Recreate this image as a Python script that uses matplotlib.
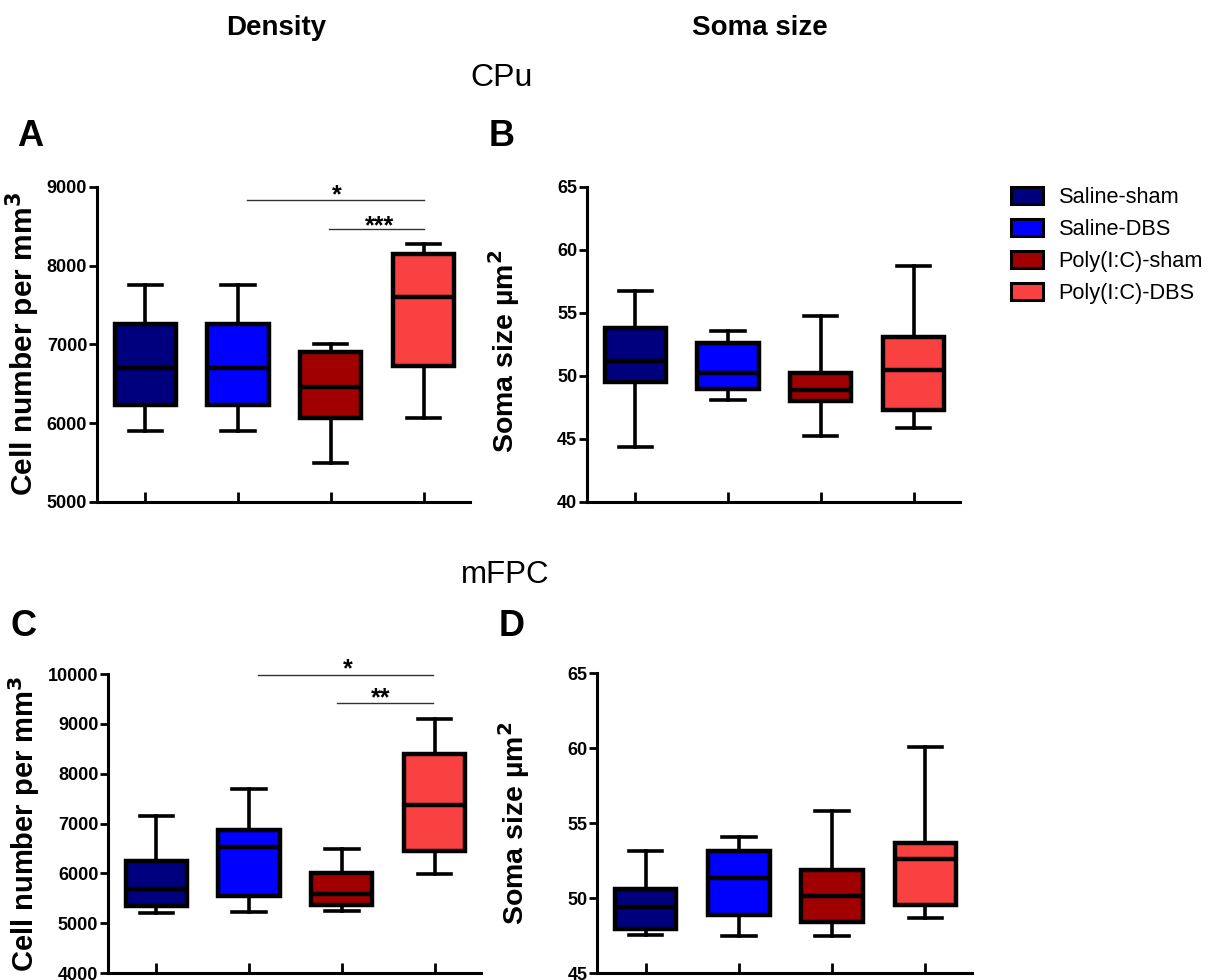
import matplotlib.pyplot as plt
from matplotlib.patches import Patch

plt.rcParams['font.family'] = ['Liberation Sans', 'DejaVu Sans']

groups = ['Saline-sham', 'Saline-DBS', 'Poly(I:C)-sham', 'Poly(I:C)-DBS']
colors = ['#00007F', '#0000FE', '#A00000', '#FA4141']

# box summaries per group: lower whisker, Q1, median, Q3, upper whisker
cpu_density = [
    [5900, 6235, 6695, 7265, 7750],
    [5900, 6235, 6700, 7265, 7750],
    [5495, 6065, 6460, 6900, 7010],
    [6065, 6725, 7605, 8150, 8280],
]
cpu_soma = [
    [44.4, 49.55, 51.2, 53.8, 56.75],
    [48.1, 49.0, 50.2, 52.65, 53.55],
    [45.2, 48.0, 48.9, 50.2, 54.75],
    [45.9, 47.3, 50.5, 53.1, 58.7],
]
mfpc_density = [
    [5205, 5355, 5690, 6250, 7160],
    [5215, 5540, 6520, 6875, 7695],
    [5255, 5370, 5585, 6005, 6495],
    [5990, 6455, 7375, 8390, 9090],
]
mfpc_soma = [
    [47.55, 47.95, 49.4, 50.6, 53.15],
    [47.45, 48.85, 51.35, 53.15, 54.1],
    [47.45, 48.4, 50.15, 51.9, 55.8],
    [48.7, 49.55, 52.6, 53.65, 60.1],
]

# significance brackets: (x start, x end, line y, stars, star x, star baseline y)
cpu_sig = [(1.1, 3.0, 8835, '*', 2.06, 8800),
           (1.98, 3.0, 8470, '***', 2.52, 8410)]
mfpc_sig = [(1.1, 2.98, 9980, '*', 2.06, 9950),
            (1.95, 2.98, 9420, '**', 2.42, 9370)]


def box_panel(ax, data, ylim, yticks, ylabel, label_size):
    stats = []
    for g, (lo, q1, med, q3, hi) in zip(groups, data):
        stats.append(dict(label=g, whislo=lo, q1=q1, med=med, q3=q3, whishi=hi, fliers=[]))
    bp = ax.bxp(stats, positions=range(4), widths=0.66, patch_artist=True,
                showfliers=False,
                boxprops=dict(linewidth=3.2, edgecolor='black'),
                medianprops=dict(color='black', linewidth=3.2),
                whiskerprops=dict(color='black', linewidth=2.6),
                capprops=dict(color='black', linewidth=2.6),
                capwidths=0.36)
    for patch, c in zip(bp['boxes'], colors):
        patch.set_facecolor(c)
    ax.set_xlim(-0.52, 3.5)
    ax.set_ylim(*ylim)
    ax.set_yticks(yticks)
    ax.set_xticks(range(4))
    ax.set_xticklabels([])
    for s in ['top', 'right']:
        ax.spines[s].set_visible(False)
    for s in ['left', 'bottom']:
        ax.spines[s].set_linewidth(2.2)
    ax.tick_params(axis='y', direction='out', length=6, width=2, labelsize=13, pad=1)
    ax.tick_params(axis='x', direction='in', length=7, width=2)
    for lab in ax.get_yticklabels():
        lab.set_fontweight('bold')
    ax.set_ylabel(ylabel, fontsize=label_size, fontweight='bold')


def sig_marks(ax, marks):
    for x0, x1, y, txt, tx, ty in marks:
        ax.plot([x0, x1], [y, y], color='#333333', linewidth=1.0, clip_on=False)
        ax.text(tx, ty, txt, ha='center', va='baseline', fontsize=18,
                fontweight='bold', clip_on=False)


fig = plt.figure(figsize=(12.15, 9.8), dpi=100)

ax_a = fig.add_axes([0.0798, 0.4878, 0.307, 0.3214])
ax_b = fig.add_axes([0.4831, 0.4878, 0.307, 0.3214])
ax_c = fig.add_axes([0.0889, 0.0071, 0.307, 0.3051])
ax_d = fig.add_axes([0.4914, 0.0071, 0.3086, 0.3061])

box_panel(ax_a, cpu_density, (5000, 9000), range(5000, 9001, 1000),
          'Cell number per mm$^{\\mathbf{3}}$', 21.5)
box_panel(ax_b, cpu_soma, (40, 65), range(40, 66, 5),
          'Soma size \u00b5m$^{\\mathbf{2}}$', 20.5)
box_panel(ax_c, mfpc_density, (4000, 10000), range(4000, 10001, 1000),
          'Cell number per mm$^{\\mathbf{3}}$', 21)
box_panel(ax_d, mfpc_soma, (45, 65), range(45, 66, 5),
          'Soma size \u00b5m$^{\\mathbf{2}}$', 20.5)
ax_a.yaxis.set_label_coords(-0.147, 0.5)
ax_b.yaxis.set_label_coords(-0.174, 0.48)
ax_c.yaxis.set_label_coords(-0.177, 0.5)
ax_d.yaxis.set_label_coords(-0.173, 0.5)

sig_marks(ax_a, cpu_sig)
sig_marks(ax_c, mfpc_sig)

# column headers, region titles, panel letters
fig.text(276 / 1215, 1 - 28 / 980, 'Density', ha='center', va='center',
         fontsize=20, fontweight='bold')
fig.text(760 / 1215, 1 - 28 / 980, 'Soma size', ha='center', va='center',
         fontsize=20, fontweight='bold')
fig.text(502 / 1215, 1 - 78 / 980, 'CPu', ha='center', va='center', fontsize=23)
fig.text(505 / 1215, 1 - 575 / 980, 'mFPC', ha='center', va='center', fontsize=22.5)
for letter, x, y in [('A', 30, 136), ('B', 502, 136), ('C', 24, 627), ('D', 512, 627)]:
    fig.text(x / 1215, 1 - y / 980, letter, ha='center', va='center',
             fontsize=26, fontweight='bold')

handles = [Patch(facecolor=c, edgecolor='black', linewidth=2.2) for c in colors]
fig.legend(handles, groups, loc='upper left', bbox_to_anchor=(991 / 1215, 1 - 167 / 980),
           frameon=False, fontsize=15.7, handlelength=1.47, handleheight=0.83,
           handletextpad=0.73, labelspacing=0.5)

fig.savefig('out.png', dpi=100)
